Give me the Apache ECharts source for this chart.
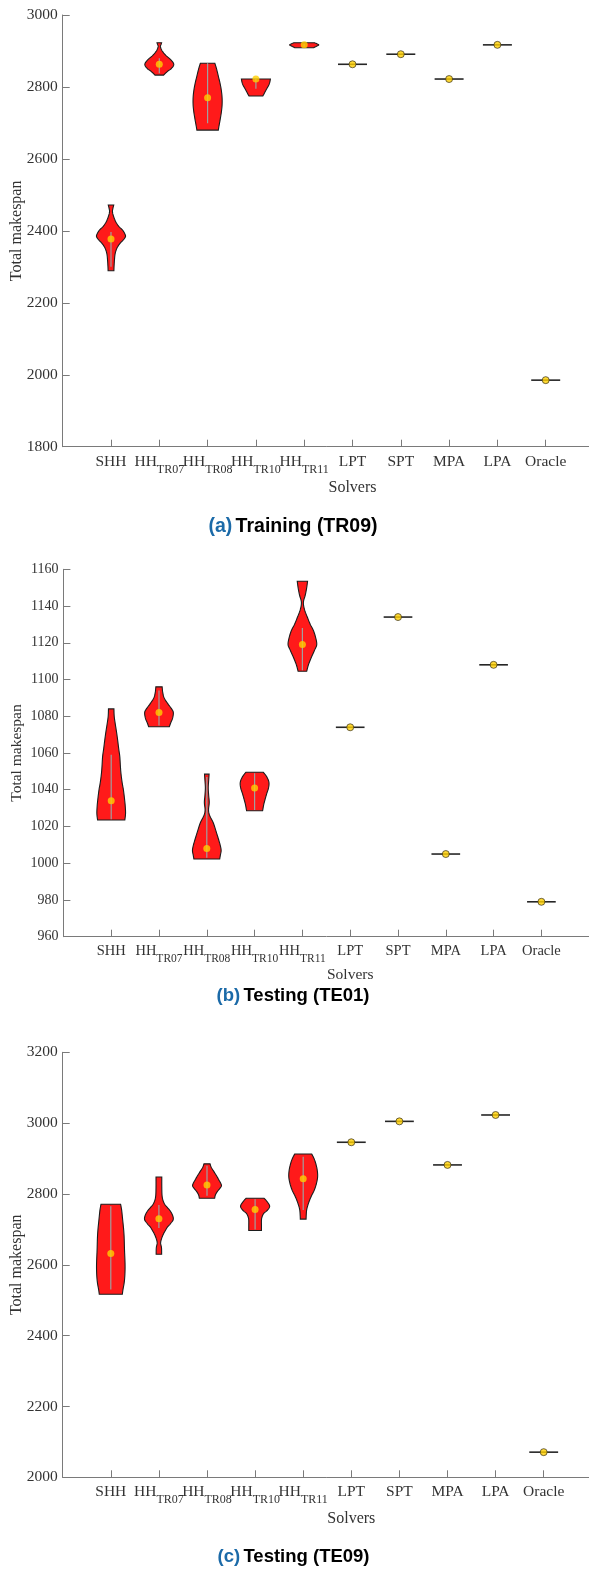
<!DOCTYPE html>
<html>
<head>
<meta charset="utf-8">
<script src="https://cdn.jsdelivr.net/npm/echarts@6/dist/echarts.min.js"></script>
<style>
  html, body { margin: 0; padding: 0; background: #ffffff; }
  #chart { width: 589px; height: 1569px; }
</style>
</head>
<body>
<div id="chart"></div>
<script>
// Solvers on the horizontal axis (underscore marks a subscript part)
const solvers = ['SHH', 'HH_TR07', 'HH_TR08', 'HH_TR10', 'HH_TR11', 'LPT', 'SPT', 'MPA', 'LPA', 'Oracle'];

// ---- (a) Training (TR09) ----
const trainRange = [1800, 3000];
const trainStep = 200;
const trainMedians = [2377, 2863, 2770, 2822, 2917, 2863, 2891, 2822, 2917, 1985];
const trainWhiskers = [[2300, 2397], [2838, 2880], [2699, 2866], [2795, 2822], [2912, 2920], null, null, null, null, null];
// violin outlines: [makespan, relative density] from top to bottom
const trainShapes = [
  [[2472, 0.19], [2462, 0.13], [2453, 0.10], [2440, 0.18], [2425, 0.33], [2412, 0.55], [2402, 0.8], [2392, 0.95], [2384, 1.0], [2375, 0.85], [2365, 0.62], [2355, 0.45], [2347, 0.36], [2335, 0.28], [2320, 0.24], [2300, 0.21], [2289, 0.2]],
  [[2923, 0.16], [2918, 0.12], [2912, 0.08], [2900, 0.2], [2888, 0.45], [2875, 0.8], [2863, 1.0], [2852, 0.85], [2845, 0.62], [2838, 0.42], [2833, 0.3]],
  [[2866, 0.5], [2850, 0.62], [2830, 0.74], [2810, 0.86], [2790, 0.95], [2770, 1.0], [2750, 1.0], [2730, 0.95], [2710, 0.87], [2690, 0.78], [2680, 0.74]],
  [[2822, 1.0], [2815, 0.97], [2808, 0.92], [2800, 0.82], [2790, 0.68], [2780, 0.55], [2775, 0.48]],
  [[2923, 0.72], [2917, 1.0], [2913, 0.85], [2909, 0.66]],
  null, null, null, null, null
];

// ---- (b) Testing (TE01) ----
const te01Range = [960, 1160];
const te01Step = 20;
const te01Medians = [1034, 1082, 1008, 1041, 1119, 1074, 1134, 1005, 1108, 979];
const te01Whiskers = [[1024, 1059], [1075, 1094], [1003, 1047], [1029, 1049], [1105, 1128], null, null, null, null, null];
const te01Shapes = [
  [[1084, 0.19], [1080, 0.21], [1076, 0.28], [1071, 0.38], [1067, 0.45], [1062, 0.53], [1058, 0.6], [1053, 0.64], [1049, 0.68], [1044, 0.76], [1040, 0.85], [1035, 0.93], [1031, 0.98], [1027, 1.0], [1023.5, 0.95]],
  [[1096, 0.22], [1093, 0.26], [1090, 0.36], [1087, 0.6], [1084, 0.88], [1082, 1.0], [1079, 0.95], [1076.5, 0.82], [1074.3, 0.72]],
  [[1048.5, 0.16], [1045, 0.13], [1041, 0.1], [1037, 0.13], [1033, 0.17], [1029, 0.12], [1026, 0.2], [1022, 0.45], [1018, 0.62], [1014, 0.78], [1010, 0.93], [1007, 1.0], [1004.5, 0.95], [1002.3, 0.9]],
  [[1049.5, 0.61], [1047, 0.85], [1044, 1.0], [1041, 0.97], [1038, 0.85], [1035, 0.74], [1032, 0.64], [1028.6, 0.56]],
  [[1153.5, 0.36], [1150, 0.3], [1146, 0.2], [1142, 0.07], [1138, 0.15], [1134, 0.34], [1130, 0.55], [1127, 0.75], [1123, 0.92], [1119, 1.0], [1116, 0.85], [1112, 0.62], [1108, 0.42], [1104.5, 0.3]],
  null, null, null, null, null
];

// ---- (c) Testing (TE09) ----
const te09Range = [2000, 3200];
const te09Step = 200;
const te09Medians = [2632, 2730, 2825, 2756, 2843, 2946, 3005, 2882, 3023, 2071];
const te09Whiskers = [[2530, 2765], [2704, 2769], [2795, 2880], [2700, 2785], [2755, 2905], null, null, null, null, null];
const te09Shapes = [
  [[2771, 0.68], [2755, 0.75], [2736, 0.8], [2689, 0.91], [2642, 0.95], [2595, 0.99], [2557, 0.95], [2529, 0.84], [2517, 0.8]],
  [[2848, 0.2], [2820, 0.2], [2795, 0.22], [2780, 0.3], [2768, 0.45], [2750, 0.82], [2730, 1.0], [2716, 0.8], [2707, 0.6], [2695, 0.42], [2684, 0.28], [2672, 0.17], [2661, 0.12], [2648, 0.18], [2630, 0.19]],
  [[2885, 0.21], [2875, 0.3], [2863, 0.48], [2850, 0.68], [2839, 0.83], [2830, 0.95], [2823, 1.0], [2815, 0.88], [2806, 0.7], [2797, 0.58], [2788, 0.53]],
  [[2788, 0.62], [2780, 0.8], [2770, 0.97], [2763, 1.0], [2754, 0.85], [2745, 0.6], [2735, 0.48], [2726, 0.44], [2710, 0.44], [2697, 0.44]],
  [[2913, 0.59], [2900, 0.75], [2886, 0.87], [2868, 0.97], [2849, 1.0], [2830, 0.92], [2811, 0.77], [2797, 0.6], [2783, 0.45], [2768, 0.32], [2755, 0.24], [2740, 0.21], [2729, 0.2]],
  null, null, null, null, null
];

// ---- layout & style ----
const HALF_WIDTH = 0.3;          // widest violin half-width, in solver slots
const SERIF = '"Liberation Serif", "Times New Roman", serif';
const SANS = '"Liberation Sans", Arial, Helvetica, sans-serif';
const AXIS_GRAY = '#7a7a7a';
const LABEL_GRAY = '#333333';

const panels = [
  { range: trainRange, step: trainStep, medians: trainMedians, whiskers: trainWhiskers, shapes: trainShapes,
    grid: { left: 62.7, top: 15, slot: 48.3, height: 431.7 },
    labelSize: 15.5, subSize: 12, nameSize: 16, labelMargin: 1, xNameGap: 33, yNameGap: 38,
    tag: '(a)', caption: 'Training (TR09)', capX: 293, capY: 526.7, capSize: 19.5 },
  { range: te01Range, step: te01Step, medians: te01Medians, whiskers: te01Whiskers, shapes: te01Shapes,
    grid: { left: 63.4, top: 569.3, slot: 47.8, height: 367.4 },
    labelSize: 14.5, subSize: 11.5, nameSize: 15.5, labelMargin: 0, xNameGap: 30, yNameGap: 38,
    tag: '(b)', caption: 'Testing (TE01)', capX: 293, capY: 996, capSize: 18.5 },
  { range: te09Range, step: te09Step, medians: te09Medians, whiskers: te09Whiskers, shapes: te09Shapes,
    grid: { left: 62.7, top: 1052.3, slot: 48.1, height: 425 },
    labelSize: 15.5, subSize: 12, nameSize: 16, labelMargin: 1, xNameGap: 33.5, yNameGap: 38,
    tag: '(c)', caption: 'Testing (TE09)', capX: 293.5, capY: 1557.3, capSize: 18.5 }
];

// Catmull-Rom pass over one side of an outline (pixel space) so the edge reads as a curve
function smoothSide(pts, steps) {
  const out = [];
  const n = pts.length;
  for (let i = 0; i < n - 1; i++) {
    const p0 = pts[Math.max(i - 1, 0)], p1 = pts[i], p2 = pts[i + 1], p3 = pts[Math.min(i + 2, n - 1)];
    for (let k = 0; k < steps; k++) {
      const t = k / steps, t2 = t * t, t3 = t2 * t;
      out.push([0, 1].map(d => 0.5 * (2 * p1[d] + (-p0[d] + p2[d]) * t +
        (2 * p0[d] - 5 * p1[d] + 4 * p2[d] - p3[d]) * t2 +
        (-p0[d] + 3 * p1[d] - 3 * p2[d] + p3[d]) * t3)));
    }
  }
  out.push(pts[n - 1]);
  return out;
}

function tickLabel(v) {
  const name = solvers[v - 1];
  if (!name) return '';
  const parts = name.split('_');
  return parts.length > 1 ? '{n|' + parts[0] + '}{s|' + parts[1] + '}' : '{n|' + name + '}';
}

function violinRenderer(panel) {
  return function (params, api) {
    const i = params.dataIndex;
    const x = api.value(0);
    const shape = panel.shapes[i];
    if (!shape) {
      const v = api.value(1);
      const a = api.coord([x - HALF_WIDTH, v]);
      const b = api.coord([x + HALF_WIDTH, v]);
      return { type: 'line', shape: { x1: a[0], y1: a[1], x2: b[0], y2: b[1] },
               style: { stroke: '#262626', lineWidth: 1.6 } };
    }
    const left = shape.map(([v, r]) => api.coord([x - r * HALF_WIDTH, v]));
    const right = shape.map(([v, r]) => api.coord([x + r * HALF_WIDTH, v])).reverse();
    const pts = smoothSide(left, 6).concat(smoothSide(right, 6));
    const w = panel.whiskers[i];
    const lo = api.coord([x, w[0]]);
    const hi = api.coord([x, w[1]]);
    return {
      type: 'group',
      children: [
        { type: 'polygon', shape: { points: pts },
          style: { fill: '#FF1A1A', stroke: '#1c1c1c', lineWidth: 1.1 } },
        { type: 'line', shape: { x1: lo[0], y1: lo[1], x2: hi[0], y2: hi[1] },
          style: { stroke: '#a0a0a0', lineWidth: 1.2 } }
      ]
    };
  };
}

const grids = [], xAxes = [], yAxes = [], series = [], graphics = [];

panels.forEach((p, k) => {
  grids.push({ left: p.grid.left, top: p.grid.top, width: p.grid.slot * 12, height: p.grid.height,
               outerBoundsMode: 'none', containLabel: false });
  xAxes.push({
    gridIndex: k, type: 'value', min: 0, max: 12, interval: 1,
    axisLine: { show: true, lineStyle: { color: AXIS_GRAY, width: 1 } },
    axisTick: { show: true, inside: true, length: 7, lineStyle: { color: AXIS_GRAY, width: 1 } },
    splitLine: { show: false },
    axisLabel: {
      margin: p.labelMargin, formatter: tickLabel, showMinLabel: false,
      verticalAlign: 'top',
      rich: {
        n: { fontFamily: SERIF, fontSize: p.labelSize, color: LABEL_GRAY, lineHeight: 28 },
        s: { fontFamily: SERIF, fontSize: p.subSize, color: LABEL_GRAY, padding: [16, 0, 0, 0] }
      }
    },
    name: 'Solvers', nameLocation: 'middle', nameGap: p.xNameGap, nameMoveOverlap: false,
    nameTextStyle: { fontFamily: SERIF, fontSize: p.nameSize, color: LABEL_GRAY }
  });
  yAxes.push({
    gridIndex: k, type: 'value', min: p.range[0], max: p.range[1], interval: p.step,
    axisLine: { show: true, lineStyle: { color: AXIS_GRAY, width: 1 } },
    axisTick: { show: true, inside: true, length: 7, lineStyle: { color: AXIS_GRAY, width: 1 } },
    splitLine: { show: false },
    axisLabel: { margin: 5, fontFamily: SERIF, fontSize: p.labelSize + (k === 1 ? -0.5 : 0), color: LABEL_GRAY,
                 formatter: v => String(v) },
    name: 'Total makespan', nameLocation: 'middle', nameGap: p.yNameGap, nameMoveOverlap: false,
    nameTextStyle: { fontFamily: SERIF, fontSize: p.nameSize, color: LABEL_GRAY }
  });
  series.push({
    type: 'custom', xAxisIndex: k, yAxisIndex: k, z: 2,
    renderItem: violinRenderer(p),
    data: p.medians.map((m, i) => [i + 1, m]),
    encode: { x: 0, y: 1 }
  });
  series.push({
    type: 'scatter', xAxisIndex: k, yAxisIndex: k, z: 3,
    symbol: 'circle', symbolSize: 7,
    data: p.medians.map((m, i) => ({
      value: [i + 1, m],
      itemStyle: p.shapes[i]
        ? { color: '#FFD000', borderWidth: 0 }
        : { color: '#FFD000', borderColor: '#3a3320', borderWidth: 0.9 }
    }))
  });
  graphics.push({
    type: 'text', x: p.capX, y: p.capY,
    style: {
      text: '{t|' + p.tag + '} {c|' + p.caption + '}',
      align: 'center', verticalAlign: 'middle',
      rich: {
        t: { fontFamily: SANS, fontWeight: 'bold', fontSize: p.capSize, fill: '#1b6aa8' },
        c: { fontFamily: SANS, fontWeight: 'bold', fontSize: p.capSize, fill: '#000000' }
      }
    }
  });
});

const chart = echarts.init(document.getElementById('chart'), null, { renderer: 'canvas', width: 589, height: 1569 });
chart.setOption({
  animation: false,
  backgroundColor: '#ffffff',
  grid: grids,
  xAxis: xAxes,
  yAxis: yAxes,
  series: series,
  graphic: graphics
});
</script>
</body>
</html>
